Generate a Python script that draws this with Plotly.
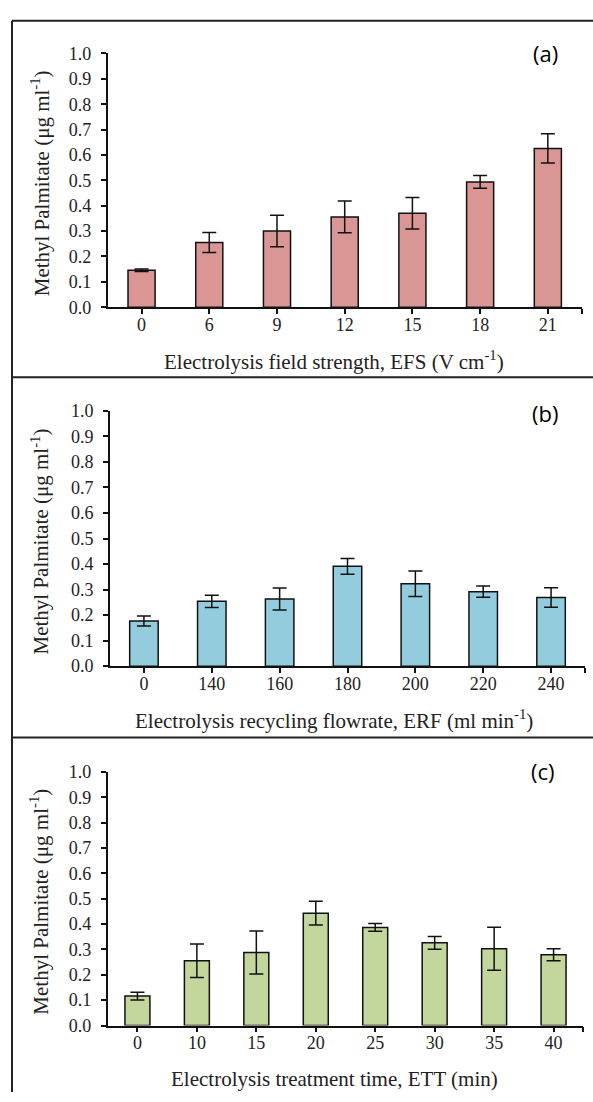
import plotly.graph_objects as go

# ---------------- data ----------------
efs_labels = ["0", "6", "9", "12", "15", "18", "21"]
efs_values = [0.146, 0.255, 0.300, 0.356, 0.370, 0.494, 0.626]
efs_errors = [0.005, 0.039, 0.062, 0.063, 0.062, 0.025, 0.058]

erf_labels = ["0", "140", "160", "180", "200", "220", "240"]
erf_values = [0.177, 0.254, 0.263, 0.391, 0.323, 0.292, 0.269]
erf_errors = [0.020, 0.024, 0.043, 0.031, 0.050, 0.022, 0.038]

ett_labels = ["0", "10", "15", "20", "25", "30", "35", "40"]
ett_values = [0.116, 0.255, 0.288, 0.443, 0.387, 0.326, 0.303, 0.279]
ett_errors = [0.015, 0.066, 0.085, 0.047, 0.015, 0.025, 0.085, 0.024]

y_ticks = [0.0, 0.1, 0.2, 0.3, 0.4, 0.5, 0.6, 0.7, 0.8, 0.9, 1.0]
y_title = "Methyl Palmitate (μg ml<sup>-1</sup>)"
x_titles = [
    "Electrolysis field strength, EFS (V cm<sup>-1</sup>)",
    "Electrolysis recycling flowrate, ERF (ml min<sup>-1</sup>)",
    "Electrolysis treatment time, ETT (min)",
]
panel_tags = ["(a)", "(b)", "(c)"]
colors = ["#D99694", "#93CDDD", "#C3D69B"]

W, H = 593, 1102


def px(x):
    return x / W


def py(y):
    return 1 - y / H


# pixel geometry of each panel: (x0, x1, y_top(1.0), y_bottom(0.0))
geo = [
    (107.7, 581.7, 44.3, 302.7),
    (110.0, 585.0, 408.3, 668.3),
    (107.7, 583.3, 776.0, 1034.3),
]
tag_pos = [(545, 44), (545, 410), (543, 775)]
bargaps = [0.6, 0.58, 0.58]

serif = "Liberation Serif"
fig = go.Figure()

datasets = [
    (efs_labels, efs_values, efs_errors),
    (erf_labels, erf_values, erf_errors),
    (ett_labels, ett_values, ett_errors),
]

annotations = []
for i, (labels, vals, errs) in enumerate(datasets):
    n = len(labels)
    xs = list(range(n))
    suffix = "" if i == 0 else str(i + 1)
    fig.add_trace(
        go.Bar(
            x=xs,
            y=vals,
            xaxis="x" + suffix,
            yaxis="y" + suffix,
            marker=dict(color=colors[i], line=dict(color="#111111", width=1.5)),
            error_y=dict(type="data", array=errs, visible=True,
                         color="#111111", thickness=1.5, width=7),
            width=1 - bargaps[i],
            showlegend=False,
        )
    )
    x0, x1, yt, yb = geo[i]
    fig.layout["xaxis" + suffix] = dict(
        domain=[px(x0), px(x1)],
        anchor="y" + suffix,
        range=[-0.5, n - 0.5],
        tickmode="array",
        tickvals=xs,
        ticktext=labels,
        ticks="outside",
        ticklen=5,
        tickwidth=1.5,
        tickcolor="#111111",
        minor=dict(tickmode="array", tickvals=[n - 0.5], ticks="outside",
                   ticklen=5, tickwidth=1.5, tickcolor="#111111", showgrid=False),
        showline=True,
        linecolor="#111111",
        linewidth=1.8,
        showgrid=False,
        zeroline=False,
        tickfont=dict(family=serif, size=18, color="#222222"),
        ticklabelstandoff=-5,
        fixedrange=True,
    )
    fig.layout["yaxis" + suffix] = dict(
        domain=[py(yb), py(yt)],
        anchor="x" + suffix,
        range=[0, 1.0],
        tickmode="array",
        tickvals=y_ticks,
        ticktext=["%.1f" % v for v in y_ticks],
        ticks="outside",
        ticklen=5,
        tickwidth=1.5,
        tickcolor="#111111",
        showline=True,
        linecolor="#111111",
        linewidth=1.8,
        showgrid=False,
        zeroline=False,
        tickfont=dict(family=serif, size=18, color="#222222"),
        ticklabelstandoff=6,
        fixedrange=True,
    )
    # axis titles
    annotations.append(dict(
        text=y_title, textangle=-90, showarrow=False,
        xref="paper", yref="paper", x=px(40), y=py((yt + yb) / 2 + 3),
        xanchor="center", yanchor="middle",
        font=dict(family=serif, size=21, color="#222222"),
    ))
    annotations.append(dict(
        text=x_titles[i], showarrow=False,
        xref="paper", yref="paper", x=px(334), y=py(yb + 54),
        xanchor="center", yanchor="middle",
        font=dict(family=serif, size=21, color="#222222"),
    ))
    tx, ty = tag_pos[i]
    annotations.append(dict(
        text=panel_tags[i], showarrow=False,
        xref="paper", yref="paper", x=px(tx), y=py(ty),
        xanchor="center", yanchor="middle",
        font=dict(family="Open Sans", size=22, color="#000000"),
    ))

border = dict(color="#222222", width=2)
shapes = [
    dict(type="line", xref="paper", yref="paper", x0=px(12), x1=px(12), y0=py(11), y1=0, line=border),
    dict(type="line", xref="paper", yref="paper", x0=px(12), x1=1, y0=py(11), y1=py(11), line=border),
    dict(type="line", xref="paper", yref="paper", x0=px(12), x1=1, y0=py(374), y1=py(374), line=border),
    dict(type="line", xref="paper", yref="paper", x0=px(12), x1=1, y0=py(741), y1=py(741), line=border),
]

fig.update_layout(
    width=W,
    height=H,
    margin=dict(l=0, r=0, t=0, b=0),
    paper_bgcolor="white",
    plot_bgcolor="white",
    annotations=annotations,
    shapes=shapes,
    bargap=0.6,
)

fig.write_html("out.html")
